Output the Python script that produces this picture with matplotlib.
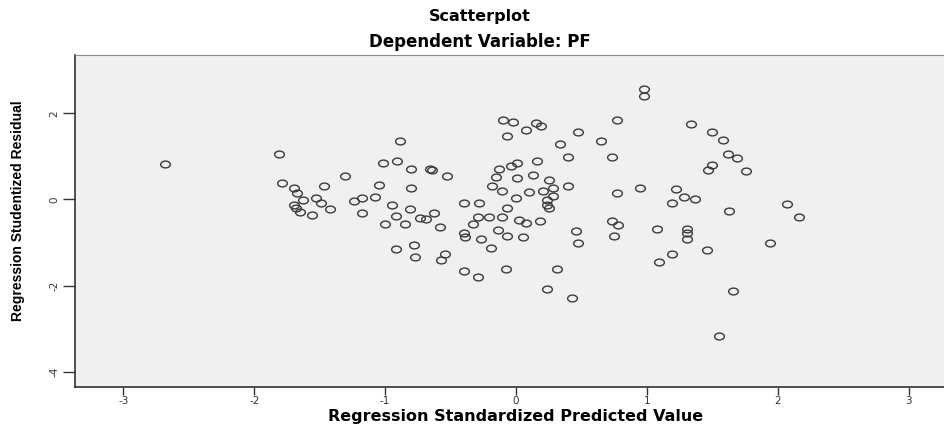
import numpy as np
import matplotlib
matplotlib.use("Agg")
from matplotlib import pyplot as plt
from matplotlib.path import Path

## Data (standardized predicted value, studentized residual)
pred = [-2.68, -1.81, -1.79, -1.70, -1.67, -1.63, -1.70, -1.68, -1.65, -1.56,
        -1.53, -1.49, -1.42, -1.47, -1.31, -1.24, -1.18, -1.08, -1.18, -1.05,
        -1.02, -0.91, -0.89, -0.80, -0.66, -0.64, -0.53, -0.80, -0.95, -0.81,
        -0.92, -1.00, -0.85, -0.73, -0.69, -0.63, -0.58, -0.92, -0.78, -0.77,
        -0.54, -0.57, -0.40, -0.28, -0.40, -0.39, -0.33, -0.29, -0.21, -0.27,
        -0.19, -0.14, -0.07, 0.05, -0.11, -0.07, 0.00, 0.02, 0.08, 0.18,
        0.10, -0.18, -0.11, -0.15, -0.13, -0.04, 0.01, 0.01, 0.13, 0.16,
        -0.10, -0.02, -0.07, 0.08, 0.15, 0.19, 0.25, 0.21, 0.28, 0.28,
        0.24, 0.24, 0.25, 0.40, 0.31, -0.08, 0.24, 0.43, -0.40, -0.29,
        0.46, 0.47, 0.34, 0.40, 0.47, 0.65, 0.77, 0.73, 0.77, 0.95,
        0.73, 0.78, 0.75, 0.98, 0.98, 1.08, 1.09, 1.19, 1.22, 1.19,
        1.28, 1.37, 1.34, 1.50, 1.58, 1.62, 1.69, 1.50, 1.47, 1.76,
        1.63, 2.07, 2.16, 1.31, 1.31, 1.31, 1.46, 1.94, 1.66, 1.55]
resid = [0.82, 1.06, 0.38, 0.27, 0.15, -0.01, -0.13, -0.20, -0.29, -0.36,
         0.03, -0.08, -0.22, 0.31, 0.55, -0.03, 0.03, 0.06, -0.31, 0.34,
         0.85, 0.89, 1.36, 0.71, 0.71, 0.68, 0.55, 0.27, -0.13, -0.22,
         -0.38, -0.57, -0.57, -0.43, -0.45, -0.31, -0.64, -1.15, -1.06, -1.33,
         -1.26, -1.40, -0.08, -0.08, -0.78, -0.87, -0.57, -0.41, -0.41, -0.92,
         -1.13, -0.71, -0.85, -0.87, -0.41, -0.20, 0.03, -0.48, -0.55, -0.50,
         0.17, 0.31, 0.20, 0.52, 0.71, 0.78, 0.85, 0.50, 0.57, 0.89,
         1.84, 1.80, 1.47, 1.61, 1.77, 1.71, 0.45, 0.20, 0.27, 0.08,
         -0.01, -0.13, -0.20, 0.31, -1.61, -1.61, -2.08, -2.29, -1.66, -1.80,
         -0.73, -1.01, 1.29, 0.99, 1.57, 1.36, 1.84, 0.99, 0.15, 0.27,
         -0.50, -0.59, -0.85, 2.56, 2.40, -0.68, -1.45, -1.26, 0.24, -0.08,
         0.06, 0.01, 1.75, 1.57, 1.38, 1.06, 0.96, 0.80, 0.68, 0.66,
         -0.27, -0.10, -0.41, -0.68, -0.78, -0.92, -1.17, -1.01, -2.12, -3.17]

xticks = [-3, -2, -1, 0, 1, 2, 3]
yticks = [-4, -2, 0, 2]

## Fonts
plt.rcParams['font.family'] = ['DejaVu Sans']

## Slightly flattened open circle, like the SPSS export
circ = Path.unit_circle()
oval = Path(circ.vertices * np.array([1.0, 0.7]), circ.codes)

fig = plt.figure(figsize=(9.44, 4.30), dpi=100)
# axes runs a bit past the right edge of the picture, as in the reference
ax = fig.add_axes([75 / 944, 43.5 / 430, 882 / 944, 331.5 / 430])
ax.set_facecolor('#f0f0f0')

ax.plot(pred, resid, linestyle='none', marker=oval, markersize=7.0,
        markerfacecolor='none', markeredgecolor='#3a3a3a', markeredgewidth=1.0)

ax.set_xlim(-3.37, 3.37)
ax.set_ylim(-4.34, 3.35)
ax.set_xticks(xticks)
ax.set_yticks(yticks)
ax.set_xticklabels([str(t) for t in xticks])
ax.set_yticklabels([str(t) for t in yticks], rotation=90, va='center')
ax.tick_params(direction='out', width=1, colors='#333333', labelsize=7.5)
ax.tick_params(axis='x', length=6, pad=1)
ax.tick_params(axis='y', length=9, pad=2)

for side in ['left', 'bottom']:
    ax.spines[side].set_color('#333333')
    ax.spines[side].set_linewidth(1.2)
ax.spines['top'].set_color('#8c8c8c')
ax.spines['right'].set_visible(False)

fig.text(516 / 944, 1 - 417 / 430, 'Regression Standardized Predicted Value',
         ha='center', va='center', fontsize=11.5, fontweight='bold')
fig.text(18 / 944, 0.5 + 0.01, 'Regression Studentized Residual', rotation=90,
         ha='center', va='center', fontsize=10, fontweight='bold',
         family=['Liberation Sans Narrow', 'Liberation Sans'])

fig.text(480 / 944, 1 - 16 / 430, 'Scatterplot', ha='center', va='center', fontsize=11.5, fontweight='bold')
fig.text(480 / 944, 1 - 42 / 430, 'Dependent Variable: PF', ha='center', va='center', fontsize=12, fontweight='bold')

plt.savefig('out.png', dpi=100)
